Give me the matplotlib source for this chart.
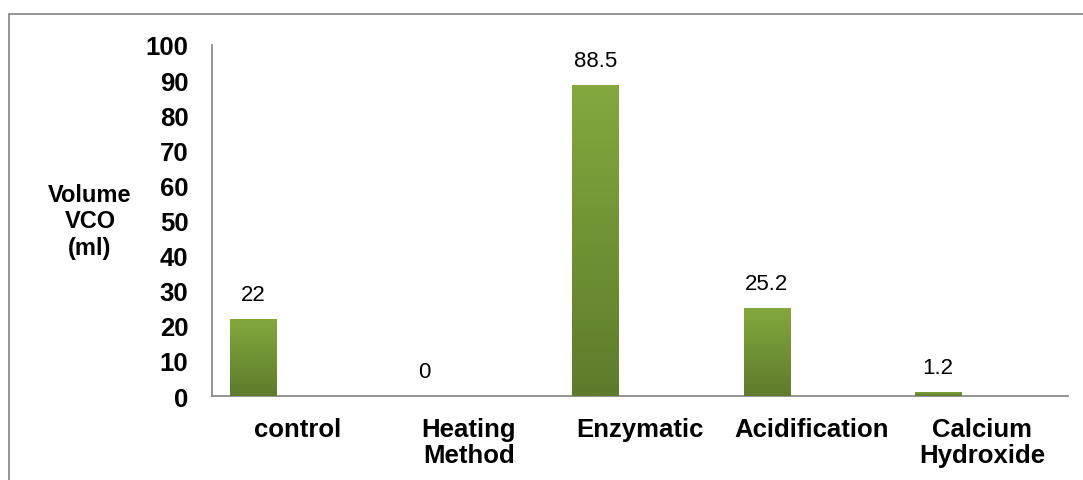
import numpy as np
import matplotlib.pyplot as plt
from matplotlib.colors import LinearSegmentedColormap
from matplotlib.patches import Rectangle

plt.rcParams['font.family'] = ['Liberation Sans', 'DejaVu Sans']

categories = ["control", "Heating\nMethod", "Enzymatic", "Acidification", "Calcium\nHydroxide"]
values = [22, 0, 88.5, 25.2, 1.2]
value_labels = ["22", "0", "88.5", "25.2", "1.2"]

fig = plt.figure(figsize=(10.83, 4.81), dpi=100)
ax = fig.add_axes([0.1957, 0.1746, 0.7904, 0.7298])

# outer chart frame (cut at right/bottom like the original)
frame = Rectangle((9 / 1083, -0.1), 1.2, 1 - 15 / 481 + 0.1, transform=fig.transFigure,
                  fill=False, edgecolor="#8c8c8c", linewidth=1.3, zorder=0)
fig.patches.append(frame)

green = LinearSegmentedColormap.from_list("g", ["#5e7b2b", "#84a83e"])
grad = np.linspace(0, 1, 256).reshape(-1, 1)

x = np.arange(len(categories))
offset = -0.26
width = 0.27
bars = ax.bar(x + offset, values, width=width, color="#779a36", linewidth=0, zorder=2)
for b in bars:
    h = b.get_height()
    if h <= 0:
        continue
    im = ax.imshow(grad, cmap=green, origin="lower", aspect="auto",
                   extent=[b.get_x(), b.get_x() + b.get_width(), 0, h], zorder=3)
    im.set_clip_path(b)

for xi, v, lab in zip(x, values, value_labels):
    ax.text(xi + offset, v + 4.0, lab, ha="center", va="bottom", fontsize=16, color="black")

ax.set_xlim(-0.5, len(categories) - 0.5)
ax.set_ylim(0, 100)
ax.set_yticks(range(0, 101, 10))
ax.set_xticks(x)
ax.set_xticklabels(categories, fontsize=18.5, fontweight="bold", linespacing=1.1)
ax.tick_params(axis="y", length=0, pad=17, labelsize=18.5)
ax.tick_params(axis="x", length=0, pad=15)
for t in ax.get_yticklabels():
    t.set_fontweight("bold")

for s in ["top", "right"]:
    ax.spines[s].set_visible(False)
for s in ["left", "bottom"]:
    ax.spines[s].set_color("#8c8c8c")
    ax.spines[s].set_linewidth(1.3)

fig.text(90 / 1083, 1 - 222 / 481, "Volume\nVCO\n(ml)", ha="center", va="center",
         fontsize=17, fontweight="bold", linespacing=1.22)

fig.savefig("out.png", dpi=100)
